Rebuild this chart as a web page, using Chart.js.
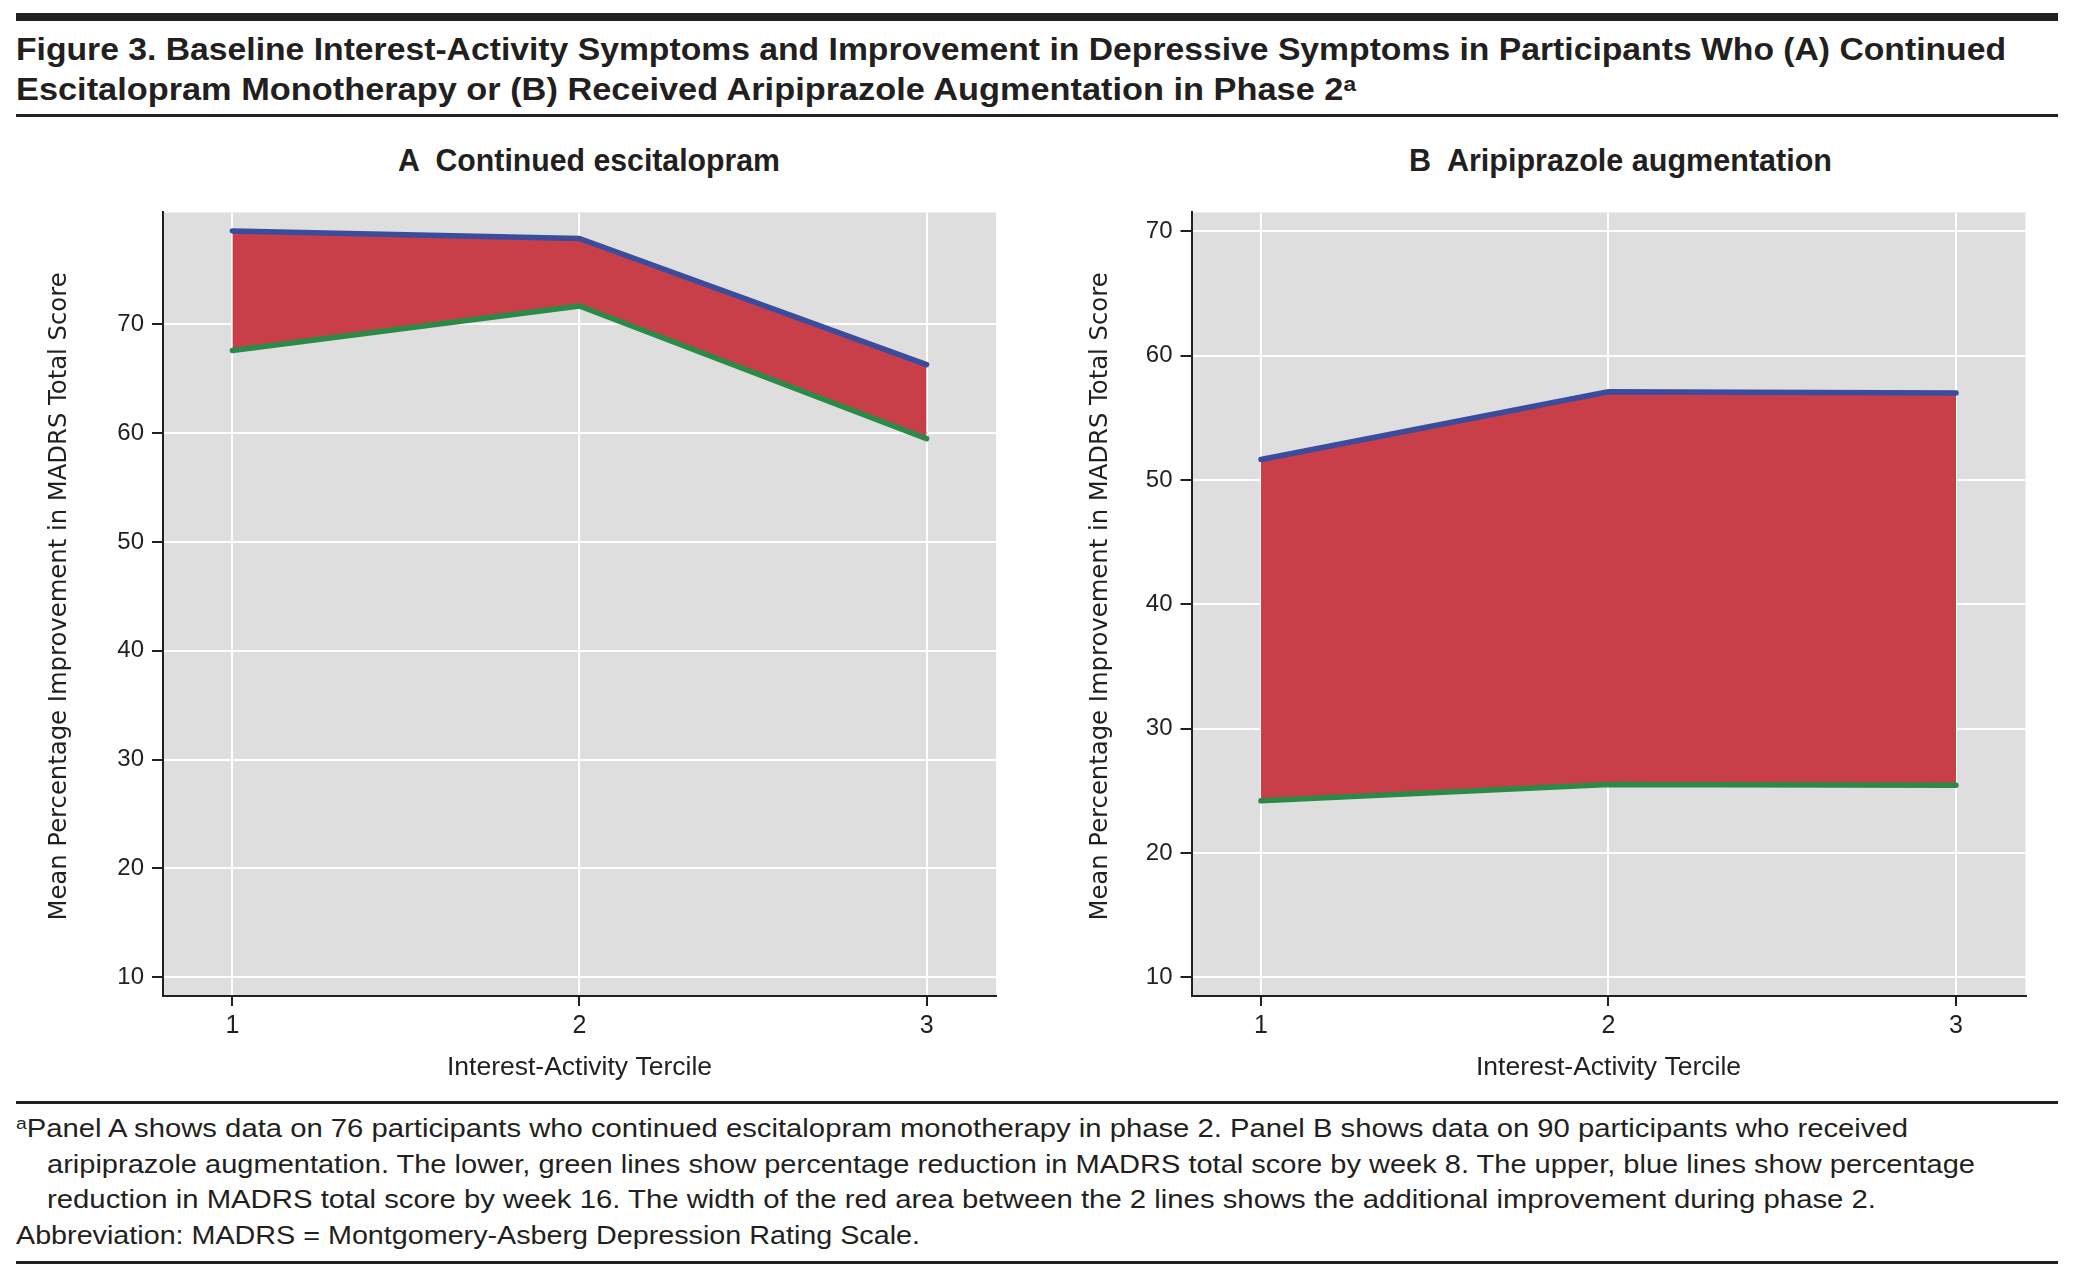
<!DOCTYPE html>
<html>
<head>
<meta charset="utf-8">
<script src="https://cdn.jsdelivr.net/npm/chart.js@4.4.1/dist/chart.umd.min.js"></script>
<style>
html,body{margin:0;padding:0;background:#fff;}
#page{position:relative;width:2077px;height:1284px;overflow:hidden;background:#fff;}
.rule{position:absolute;left:16px;width:2042px;background:#231f20;}
.txt{position:absolute;white-space:pre;transform-origin:0 0;font-family:"Liberation Sans",Arial,sans-serif;color:#231f20;line-height:1;}
.sup{position:relative;top:-0.45em;font-size:0.66em;}
canvas{position:absolute;}
</style>
</head>
<body>
<div id="page">
  <div class="rule" style="top:13px;height:8px"></div>
  <div class="txt" data-w="1990" data-base="60" data-fs="31" style="left:16px;font-weight:bold">Figure 3. Baseline Interest-Activity Symptoms and Improvement in Depressive Symptoms in Participants Who (A) Continued</div>
  <div class="txt" data-w="1340" data-base="100" data-fs="31" style="left:16px;font-weight:bold">Escitalopram Monotherapy or (B) Received Aripiprazole Augmentation in Phase 2<span class="sup">a</span></div>
  <div class="rule" style="top:114px;height:3px"></div>

  <div class="txt" data-w="382" data-cx="589" data-base="171" data-fs="31" style="font-weight:bold">A  Continued escitalopram</div>
  <div class="txt" data-w="423" data-cx="1620" data-base="171" data-fs="31" style="font-weight:bold">B  Aripiprazole augmentation</div>

  <canvas id="chartA" width="1040" height="900" style="left:0px;top:190px;width:1040px;height:900px"></canvas>
  <canvas id="chartB" width="1037" height="900" style="left:1040px;top:190px;width:1037px;height:900px"></canvas>

  <div class="rule" style="top:1101px;height:3px"></div>
  <div class="txt" data-w="1892" data-base="1137" data-fs="26" style="left:16px"><span class="sup">a</span>Panel A shows data on 76 participants who continued escitalopram monotherapy in phase 2. Panel B shows data on 90 participants who received</div>
  <div class="txt" data-w="1928" data-base="1173" data-fs="26" style="left:47px">aripiprazole augmentation. The lower, green lines show percentage reduction in MADRS total score by week 8. The upper, blue lines show percentage</div>
  <div class="txt" data-w="1829" data-base="1208" data-fs="26" style="left:47px">reduction in MADRS total score by week 16. The width of the red area between the 2 lines shows the additional improvement during phase 2.</div>
  <div class="txt" data-w="904" data-base="1244" data-fs="26" style="left:16px">Abbreviation: MADRS = Montgomery-Asberg Depression Rating Scale.</div>
  <div class="rule" style="top:1261px;height:3px"></div>
</div>

<script>
// ---------------- data ----------------
const terciles = [1, 2, 3];
const yTickValues = [10, 20, 30, 40, 50, 60, 70];

// Panel A: continued escitalopram
const week8A  = [67.6, 71.7, 59.5];
const week16A = [78.6, 77.9, 66.3];

// Panel B: aripiprazole augmentation
const week8B  = [24.2, 25.5, 25.45];
const week16B = [51.65, 57.1, 57.0];

const xTitle = 'Interest-Activity Tercile';
const yTitle = 'Mean Percentage Improvement in MADRS Total Score';

// ---------------- text fitting ----------------
document.querySelectorAll('.txt').forEach(el => {
  const fs = parseFloat(el.dataset.fs);
  el.style.fontSize = fs + 'px';
  el.style.top = (parseFloat(el.dataset.base) - 0.8465 * fs) + 'px';
  const target = parseFloat(el.dataset.w);
  const nat = el.getBoundingClientRect().width;
  if (el.dataset.cx) el.style.left = (parseFloat(el.dataset.cx) - target / 2) + 'px';
  el.style.transform = 'scaleX(' + (target / nat) + ')';
});

// ---------------- charts ----------------
const INK = '#231f20';
const GREEN = '#2b8a47';
const BLUE = '#3a4c9b';
const RED = '#c83f49';
const PANEL = '#dedede';

const bgPlugin = {
  id: 'panelBg',
  beforeDraw(chart) {
    const {ctx, chartArea: a} = chart;
    ctx.save();
    ctx.fillStyle = PANEL;
    ctx.fillRect(a.left, a.top, a.right - a.left, a.bottom - a.top);
    ctx.restore();
  }
};

function pts(values) {
  return terciles.map((t, i) => ({x: t, y: values[i]}));
}

function makeChart(id, w8, w16, yMin, yMax, yAxisWidth, padRight, yTitlePad) {
  return new Chart(document.getElementById(id), {
    type: 'line',
    data: {
      datasets: [
        {
          label: 'Week 8',
          data: pts(w8),
          borderColor: GREEN,
          borderWidth: 5.5,
          borderCapStyle: 'round',
          borderJoinStyle: 'round',
          pointRadius: 0,
          tension: 0,
          fill: false
        },
        {
          label: 'Week 16',
          data: pts(w16),
          borderColor: BLUE,
          borderWidth: 5.5,
          borderCapStyle: 'round',
          borderJoinStyle: 'round',
          pointRadius: 0,
          tension: 0,
          fill: '-1',
          backgroundColor: RED
        }
      ]
    },
    options: {
      responsive: false,
      animation: false,
      events: [],
      layout: {padding: {left: 0, right: padRight, top: 20, bottom: 0}},
      plugins: {legend: {display: false}, tooltip: {enabled: false}},
      scales: {
        x: {
          type: 'linear',
          min: 0.8,
          max: 3.2,
          afterBuildTicks: s => { s.ticks = terciles.map(v => ({value: v})); },
          afterFit: s => { s.height = 94; },
          grid: {color: '#ffffff', lineWidth: 2, tickColor: INK, tickLength: 10, tickWidth: 2},
          border: {display: true, color: INK, width: 2},
          ticks: {color: INK, font: {family: 'Liberation Sans', size: 25}, padding: 5},
          title: {display: true, text: xTitle, color: INK,
                  font: {family: 'Liberation Sans', size: 26.5, lineHeight: 1.2},
                  padding: {top: 0, bottom: 6}}
        },
        y: {
          type: 'linear',
          min: yMin,
          max: yMax,
          afterBuildTicks: s => { s.ticks = yTickValues.map(v => ({value: v})); },
          afterFit: s => { s.width = yAxisWidth; },
          grid: {color: '#ffffff', lineWidth: 2, tickColor: INK, tickLength: 11, tickWidth: 2},
          border: {display: true, color: INK, width: 2},
          ticks: {color: INK, font: {family: 'Liberation Sans', size: 24}, padding: 8},
          title: {display: true, text: '  ' + yTitle, color: INK,
                  font: {family: 'DejaVu Sans', size: 24.3, lineHeight: 1.2},
                  padding: {top: yTitlePad, bottom: 0}}
        }
      }
    },
    plugins: [bgPlugin]
  });
}

makeChart('chartA', week8A, week16A, 8.26, 80.3, 163, 44, 45);
makeChart('chartB', week8B, week16B, 8.5, 71.52, 151.5, 51.5, 46);
</script>
</body>
</html>
